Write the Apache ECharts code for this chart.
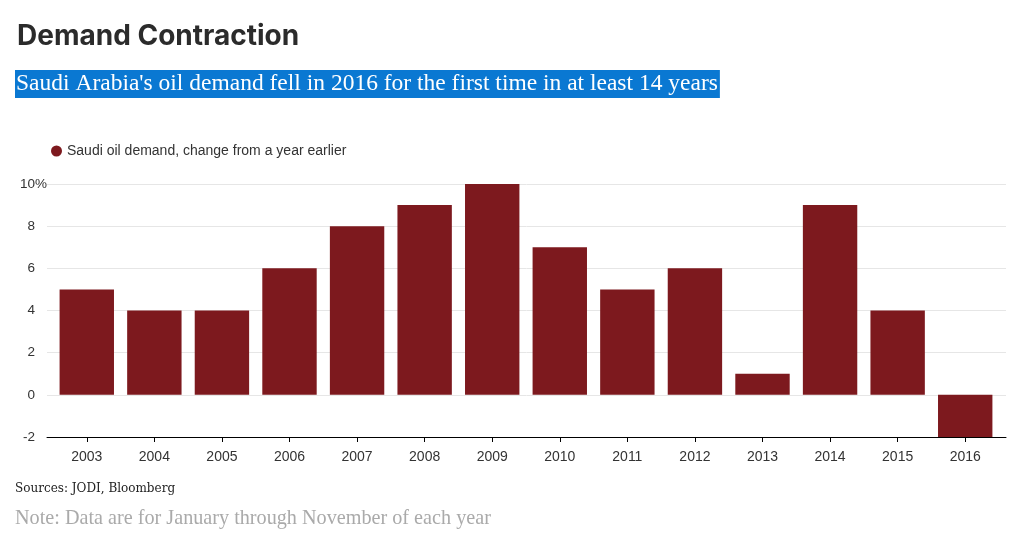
<!DOCTYPE html>
<html><head><meta charset="utf-8">
<script src="https://cdn.jsdelivr.net/npm/echarts@6/dist/echarts.min.js"></script>
<style>html,body{margin:0;padding:0;background:#fff}#c{width:1021px;height:536px}</style>
</head><body><div id="c"></div>
<script>
var years = ['2003','2004','2005','2006','2007','2008','2009','2010','2011','2012','2013','2014','2015','2016'];
var demandChange = [5, 4, 4, 6, 8, 9, 10, 7, 5, 6, 1, 9, 4, -2];
var seriesName = 'Saudi oil demand, change from a year earlier';
var yMin = -2, yMax = 10, yStep = 2;

var chart = echarts.init(document.getElementById('c'));
chart.setOption({
  animation: false,
  backgroundColor: '#fff',
  title: [
    {text: 'Demand Contraction', left: 12, top: 18,
     textStyle: {fontFamily: 'Inter', fontWeight: 700, fontSize: 28, color: '#2b2b2b', letterSpacing: -0.8}},
    {text: "Saudi Arabia's oil demand fell in 2016 for the first time in at least 14 years", left: 15, top: 70,
     padding: [2, 2, 2, 1], backgroundColor: '#0a78d2',
     textStyle: {fontFamily: 'Liberation Serif', fontWeight: 400, fontSize: 23.5, color: '#fff'}},
    {text: 'Sources: JODI, Bloomberg', left: 15, top: 483, padding: 0,
     textStyle: {fontFamily: 'DejaVu Serif', fontWeight: 400, fontSize: 12, color: '#222'}},
    {text: 'Note: Data are for January through November of each year', left: 15, top: 509, padding: 0,
     textStyle: {fontFamily: 'Liberation Serif', fontWeight: 400, fontSize: 20.2, color: '#aaa'}}
  ],
  legend: {
    left: 46, top: 139, icon: 'circle', itemWidth: 11, itemHeight: 11, itemGap: 10,
    textStyle: {fontFamily: 'Liberation Sans', fontSize: 14, color: '#333'},
    data: [seriesName]
  },
  grid: [
    {left: 47, right: 15, top: 184, bottom: 99},
    {left: 53, right: 22, top: 184, bottom: 99}
  ],
  xAxis: [
    {gridIndex: 0, type: 'value', min: 0, max: 1, axisLabel: {show: false}, axisTick: {show: false},
     splitLine: {show: false}, axisLine: {show: true, onZero: false, lineStyle: {color: '#000', width: 1}}},
    {gridIndex: 1, type: 'category', data: years,
     axisLine: {show: true, onZero: false, lineStyle: {color: '#000', width: 1}},
     axisTick: {show: true, alignWithLabel: true, length: 5, lineStyle: {color: '#000', width: 1}},
     axisLabel: {fontFamily: 'Liberation Sans', fontSize: 14, color: '#333', margin: 13}}
  ],
  yAxis: [
    {gridIndex: 0, type: 'value', min: yMin, max: yMax, interval: yStep,
     axisLine: {show: false}, axisTick: {show: false},
     splitLine: {lineStyle: {color: '#e6e6e6', width: 1}},
     axisLabel: {fontFamily: 'Liberation Sans', fontSize: 13.5, color: '#333', margin: 0, align: 'right',
       formatter: function (v) { return v === yMax ? v + '{p|%}' : v + '{h|%}'; },
       rich: {p: {fontFamily: 'Liberation Sans', fontSize: 13.5, color: '#333'},
              h: {fontFamily: 'Liberation Sans', fontSize: 13.5, color: 'rgba(0,0,0,0)'}}}},
    {gridIndex: 1, type: 'value', min: yMin, max: yMax, interval: yStep, show: false, splitLine: {show: false}}
  ],
  series: [{
    name: seriesName, type: 'bar', xAxisIndex: 1, yAxisIndex: 1, data: demandChange,
    barCategoryGap: '19.5%', itemStyle: {color: '#7d191e'}
  }]
});
</script></body></html>
